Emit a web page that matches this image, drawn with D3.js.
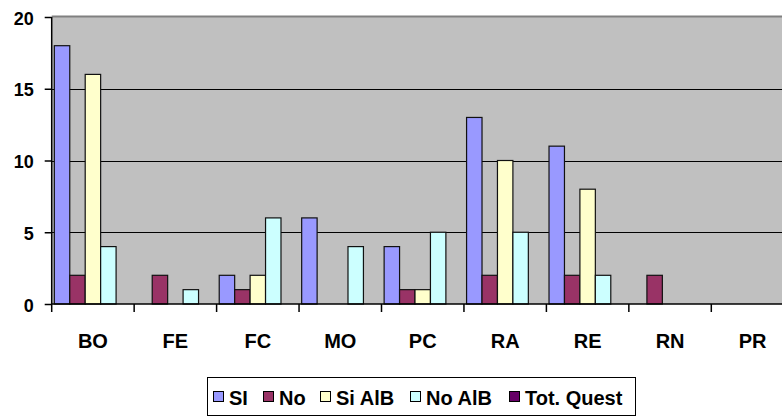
<!DOCTYPE html>
<html><head><meta charset="utf-8">
<script src="https://cdn.jsdelivr.net/npm/d3@7"></script>
<style>html,body{margin:0;padding:0;background:#fff;overflow:hidden}svg{display:block}text{font-family:"Liberation Sans",Arial,sans-serif;font-weight:bold;fill:#000}</style>
</head><body>
<svg id="c" width="782" height="417"></svg>
<script>
const categories = ["BO","FE","FC","MO","PC","RA","RE","RN","PR"];
const seriesNames = ["SI","No","Si AlB","No AlB","Tot. Quest"];
const siValues     = [18,0,2,6,4,13,11,0,0];
const noValues     = [2,2,1,0,1,2,2,2,0];
const siAlbValues  = [16,0,2,0,1,10,8,0,0];
const noAlbValues  = [4,1,6,4,5,5,2,0,0];
const totQuestValues = [0,0,0,0,0,0,0,0,0];
const yTicks = [0,5,10,15,20];
const colors = ["#9999FF","#993366","#FFFFCC","#CCFFFF","#660066"];

(function(){
const seriesValues = [siValues, noValues, siAlbValues, noAlbValues, totQuestValues];
const svg = d3.select("#c");
const pL = 51.7, pR = 51.7 + 9*82.45, pT = 17, pB = 304;

const x = d3.scaleBand().domain(categories).range([pL, pR]).padding(0);
const xs = d3.scaleBand().domain(seriesNames).range([0, x.bandwidth()]).paddingInner(0).paddingOuter(0.17);
const y = d3.scaleLinear().domain([0,20]).range([pB, pT]);

svg.append("rect").attr("x", pL).attr("y", pT).attr("width", pR-pL).attr("height", pB-pT).attr("fill","#C0C0C0");

svg.append("g").selectAll("line").data(yTicks.filter(d=>d>0 && d<20)).join("line")
  .attr("x1", pL).attr("x2", pR).attr("y1", d=>Math.round(y(d))+0.5).attr("y2", d=>Math.round(y(d))+0.5)
  .attr("stroke","#000").attr("stroke-width",1);
svg.append("line").attr("x1", pL).attr("x2", pR).attr("y1", pT-0.5).attr("y2", pT-0.5).attr("stroke","#808080").attr("stroke-width",2);

const g = svg.append("g");
categories.forEach((c,i)=>{
  seriesNames.forEach((s,j)=>{
    const v = seriesValues[j][i];
    if (v <= 0) return;
    g.append("rect")
      .attr("x", x(c)+xs(s)).attr("y", y(v))
      .attr("width", xs.bandwidth()).attr("height", y(0)-y(v))
      .attr("fill", colors[j]).attr("stroke","#111").attr("stroke-width",1.2);
  });
});

const yAxis = d3.axisLeft(y).tickValues(yTicks).tickSize(7).tickPadding(11);
const ya = svg.append("g").attr("transform",`translate(${pL},0)`).call(yAxis);
ya.select(".domain").attr("stroke","#000").attr("stroke-width",1.5).attr("d",`M0,${pT}V${pB}`);
ya.selectAll(".tick line").attr("stroke","#000").attr("stroke-width",1.5);
ya.selectAll(".tick text").attr("font-size",18).attr("font-family","Liberation Sans, Arial, sans-serif").attr("font-weight","bold").attr("fill","#000").attr("dy","0.4em");

const xAxis = d3.axisBottom(x).tickSize(0).tickPadding(0);
const xa = svg.append("g").attr("transform",`translate(0,${pB})`).call(xAxis);
xa.select(".domain").attr("stroke","#000").attr("stroke-width",1.5).attr("d",`M${pL},0H${pR}`);
xa.selectAll(".tick text").attr("font-size",20).attr("font-family","Liberation Sans, Arial, sans-serif").attr("font-weight","bold").attr("fill","#000").attr("dy",0).attr("y",44);
svg.append("g").selectAll("line").data(categories).join("line")
  .attr("x1", d=>x(d)).attr("x2", d=>x(d)).attr("y1", pB).attr("y2", pB+8)
  .attr("stroke","#000").attr("stroke-width",1.5);

const lg = svg.append("g");
lg.append("rect").attr("x",207.5).attr("y",377.5).attr("width",428).attr("height",38).attr("fill","#fff").attr("stroke","#000").attr("stroke-width",1);
const swX = [213, 263, 320, 410, 509];
seriesNames.forEach((s,j)=>{
  lg.append("rect").attr("x",swX[j]+0.5).attr("y",391.5).attr("width",10).attr("height",10).attr("fill",colors[j]).attr("stroke","#000").attr("stroke-width",1);
  lg.append("text").attr("x",swX[j]+16).attr("y",405).attr("font-size",20).text(s);
});
})();
</script>
</body></html>
